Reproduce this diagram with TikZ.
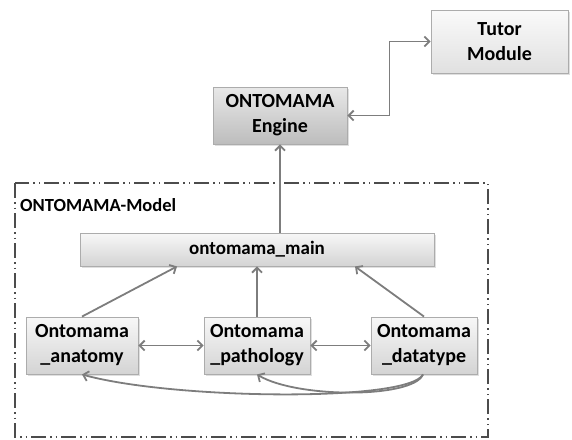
\documentclass[tikz,border=0pt]{standalone}
\usepackage{fontspec}
\setmainfont{Carlito}
\usetikzlibrary{calc,arrows.meta,shadows}

\begin{document}
\begin{tikzpicture}[x=1pt,y=1pt,
    >={Straight Barb[length=5pt,width=10pt]},
    conn/.style={draw={rgb,255:red,125;green,125;blue,125}, line width=1.8pt},
    box/.style={draw=gray!65, line width=0.9pt, top color=gray!6, bottom color=gray!34,
      align=center, inner sep=2pt, font=\fontsize{20}{25}\selectfont\bfseries,
      drop shadow={opacity=0.25,shadow xshift=1.5pt,shadow yshift=-1.5pt}},
    dark/.style={top color=gray!18, bottom color=gray!52},
    light/.style={top color=gray!4, bottom color=gray!24},
    frame/.style={draw=gray!60!black, line width=1.4pt,
      dash pattern=on 15pt off 4pt on 1.5pt off 4pt on 1.5pt off 4pt}]

  \useasboundingbox (0,0) rectangle (572,-439);

  % model frame
  \draw[frame] (15,-183) rectangle (488,-437);
  \node[anchor=west, inner sep=0pt, font=\fontsize{18.5}{22}\selectfont\bfseries] (model) at (20,-205) {ONTOMAMA-Model};

  \node[box, minimum width=354pt, minimum height=33pt, font=\fontsize{19}{23}\selectfont\bfseries] (main) at (257,-249.5) {ontomama\_main};
  \node[box, minimum width=106pt, minimum height=57pt, node distance=96pt] (pat) [below of=main] {Ontomama\\\_pathology};
  \node[box, minimum width=112pt, minimum height=57pt, node distance=175pt] (ana) [left of=pat] {Ontomama\\\_anatomy};
  \node[box, minimum width=106pt, minimum height=57pt, node distance=167pt] (dat) [right of=pat] {Ontomama\\\_datatype};

  \node[box, dark, minimum width=134pt, minimum height=57pt, node distance=134pt, xshift=23pt] (eng) [above of=main] {ONTOMAMA\\Engine};
  \node[box, light, minimum width=137pt, minimum height=63pt] (tut) at (499.5,-41.5) {Tutor\\Module};

  \draw[conn, <->] (eng.east) -- ++(42,0) |- (tut.west);
  \draw[conn, ->] (main.north -| eng.south) -- (eng.south);

  \draw[conn, ->] (ana.north) -- ($(main.south)+(-80,0)$);
  \draw[conn, ->] (pat.north) -- (main.south);
  \draw[conn, ->] (dat.north) -- ($(main.south)+(98,0)$);

  \draw[conn, <->] (ana.east) -- (pat.west);
  \draw[conn, <->] (pat.east) -- (dat.west);

  \draw[conn, ->] ($(dat.south)+(-1,0)$) .. controls +(-15,-28) and +(90,-25) .. (ana.south);
  \draw[conn, ->] ($(dat.south)+(-1,0)$) .. controls +(-10,-24) and +(40,-24) .. (pat.south);
\end{tikzpicture}
\end{document}
